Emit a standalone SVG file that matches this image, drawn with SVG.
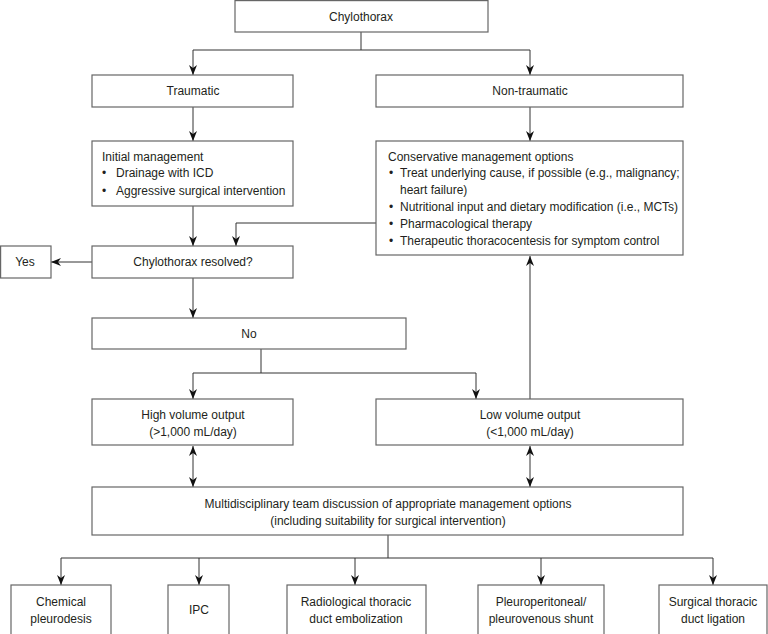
<svg xmlns="http://www.w3.org/2000/svg" width="768" height="634" viewBox="0 0 768 634">
<defs>
<marker id="arr" viewBox="0 0 10 8" refX="10" refY="4" markerWidth="10" markerHeight="8" markerUnits="userSpaceOnUse" orient="auto-start-reverse">
<path d="M0,0 L10,4 L0,8 L3,4 z" fill="#111"/>
</marker>
<style>
.box{fill:#fff;stroke:#666;stroke-width:1.2}
.t{font-family:"Liberation Sans",Arial,sans-serif;font-size:12px;fill:#231f20}
.c{text-anchor:middle}
.ln{fill:none;stroke:#333;stroke-width:1}
.a{fill:none;stroke:#333;stroke-width:1;marker-end:url(#arr)}
.d{fill:none;stroke:#333;stroke-width:1;marker-end:url(#arr);marker-start:url(#arr)}
</style>
</defs>
<rect width="768" height="634" fill="#fff"/>
<g id="connectors">
<path class="ln" d="M361,32 V50 M193,50 H530"/>
<path class="a" d="M193,50 V75"/>
<path class="a" d="M530,50 V75"/>
<path class="a" d="M193,107 V141"/>
<path class="a" d="M530,107 V141"/>
<path class="a" d="M193,206 V246"/>
<path class="a" d="M376,223 H236 V246"/>
<path class="a" d="M92,262 H51"/>
<path class="a" d="M193,278 V318"/>
<path class="ln" d="M261,349 V373 M193,373 H476"/>
<path class="a" d="M193,373 V399"/>
<path class="a" d="M476,373 V399"/>
<path class="a" d="M530,399 V256"/>
<path class="d" d="M193,446 V487"/>
<path class="d" d="M530,446 V487"/>
<path class="ln" d="M388,535 V558 M61,558 H713"/>
<path class="a" d="M61,558 V585"/>
<path class="a" d="M199,558 V585"/>
<path class="a" d="M355,558 V585"/>
<path class="a" d="M541,558 V585"/>
<path class="a" d="M713,558 V585"/>
</g>
<g id="chylothorax"><rect class="box" x="235" y="0.6" width="253" height="31.4"/><text class="t c" x="361" y="21">Chylothorax</text></g>
<g id="traumatic"><rect class="box" x="92" y="75" width="201" height="32"/><text class="t c" x="193" y="95">Traumatic</text></g>
<g id="nontraumatic"><rect class="box" x="376" y="75" width="307" height="32"/><text class="t c" x="530" y="95">Non-traumatic</text></g>
<g id="initial"><rect class="box" x="92" y="141" width="201" height="65"/>
<text class="t" x="102" y="161">Initial management</text>
<text class="t" x="102" y="177"><tspan x="102">•</tspan><tspan x="116">Drainage with ICD</tspan></text>
<text class="t" x="102" y="195"><tspan x="102">•</tspan><tspan x="116">Aggressive surgical intervention</tspan></text>
</g>
<g id="conservative"><rect class="box" x="376" y="141" width="307" height="114"/>
<text class="t" x="388" y="161">Conservative management options</text>
<text class="t" y="177"><tspan x="389">•</tspan><tspan x="400">Treat underlying cause, if possible (e.g., malignancy;</tspan></text>
<text class="t" x="400" y="194">heart failure)</text>
<text class="t" y="211"><tspan x="389">•</tspan><tspan x="400">Nutritional input and dietary modification (i.e., MCTs)</tspan></text>
<text class="t" y="228"><tspan x="389">•</tspan><tspan x="400">Pharmacological therapy</tspan></text>
<text class="t" y="245"><tspan x="389">•</tspan><tspan x="400">Therapeutic thoracocentesis for symptom control</tspan></text>
</g>
<g id="resolved"><rect class="box" x="92" y="246" width="201" height="32"/><text class="t c" x="193" y="266">Chylothorax resolved?</text></g>
<g id="yes"><rect class="box" x="0.6" y="246" width="50.4" height="32"/><text class="t c" x="25" y="266">Yes</text></g>
<g id="no"><rect class="box" x="92" y="318" width="314" height="31"/><text class="t c" x="249" y="338">No</text></g>
<g id="high"><rect class="box" x="92" y="399" width="201" height="46"/><text class="t c" x="193" y="419">High volume output</text><text class="t c" x="193" y="436">(&gt;1,000 mL/day)</text></g>
<g id="low"><rect class="box" x="376" y="399" width="307" height="46"/><text class="t c" x="530" y="419">Low volume output</text><text class="t c" x="530" y="436">(&lt;1,000 mL/day)</text></g>
<g id="mdt"><rect class="box" x="92" y="487" width="591" height="48"/><text class="t c" x="388" y="508">Multidisciplinary team discussion of appropriate management options</text><text class="t c" x="388" y="525">(including suitability for surgical intervention)</text></g>
<g id="chemical"><rect class="box" x="11" y="585" width="100" height="60"/><text class="t c" x="61" y="606">Chemical</text><text class="t c" x="61" y="623">pleurodesis</text></g>
<g id="ipc"><rect class="box" x="168" y="585" width="61" height="60"/><text class="t c" x="199" y="614">IPC</text></g>
<g id="radiological"><rect class="box" x="287" y="585" width="139" height="60"/><text class="t c" x="356" y="606">Radiological thoracic</text><text class="t c" x="356" y="623">duct embolization</text></g>
<g id="shunt"><rect class="box" x="478" y="585" width="126" height="60"/><text class="t c" x="541" y="606">Pleuroperitoneal/</text><text class="t c" x="541" y="623">pleurovenous shunt</text></g>
<g id="surgical"><rect class="box" x="659" y="585" width="108" height="60"/><text class="t c" x="713" y="606">Surgical thoracic</text><text class="t c" x="713" y="623">duct ligation</text></g>
</svg>
